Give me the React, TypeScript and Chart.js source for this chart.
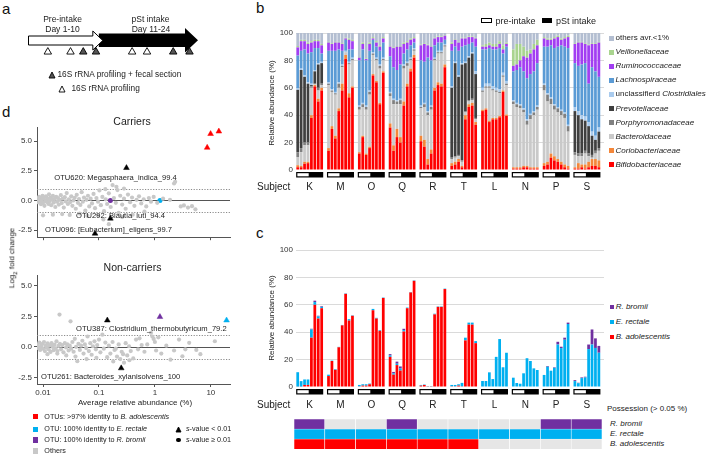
import React, { useEffect, useRef } from 'react';
import { Chart, registerables } from 'chart.js';
Chart.register(...registerables);

const FONT = "'Liberation Sans', Arial, Helvetica, sans-serif";
Chart.defaults.font.family = FONT;
Chart.defaults.color = '#333';

// ---------------- panel a ----------------
const preIntakeDays = [0, 10];
const intakeDays = [10, 24];
const sampleDays = [2.8, 6.0, 7.8, 9.6, 14.7, 16.8, 20.5, 22.8];
const sampleKinds = ['profiling', 'profiling', 'section', 'section', 'profiling', 'profiling', 'section', 'section'];

// ---------------- panel b ----------------
const subjects = ['K', 'M', 'O', 'Q', 'R', 'T', 'L', 'N', 'P', 'S'];
const bTicks = [0, 20, 40, 60, 80, 100];

const bifidobacteriaceae = [
  2, 2, 4.5, 5, 38, 61, 50, 58,
  14, 30, 23, 43, 58, 81, 53, 60,
  12, 24, 11, 16, 69, 64, 48, 71,
  31, 14, 24, 20, 47, 61, 72, 82,
  21, 17, 4, 12, 58, 62, 61, 75,
  3, 4, 6, 2, 37, 46, 47, 33,
  43, 44, 35, 37, 37, 38.5, 57, 39.5,
  1, 1, 1, 2, 2, 1, 1, 1,
  3, 4, 9, 7, 6, 4, 2, 1,
  1, 1, 2, 1, 2, 3, 3, 2,
];
const coriobacteriaceae = [
  1.5, 1, 1.5, 1, 2, 1, 2, 2,
  2, 2, 2, 2, 5, 3, 3, 1,
  1, 1, 1, 1, 1, 1, 1, 1,
  3, 4, 6, 4, 3, 2, 2, 2,
  4, 5, 4, 3, 2, 2, 2, 2,
  2, 2, 2, 1, 3, 2, 2, 2,
  1, 1, 1, 1, 1, 1, 1, 1,
  1, 1, 1, 1, 1, 1, 1, 1,
  2, 2, 3, 3, 2, 2, 2, 2,
  1, 4, 2, 3, 4, 5, 5, 5,
];
const bacteroidaceae = [
  6, 10, 12, 12, 20, 0.5, 6, 2,
  46, 25, 30, 15, 12, 2, 21, 19,
  31, 21, 32, 38, 14, 15, 25, 8,
  20, 30, 18, 24, 24, 13, 6, 3,
  20, 24, 32, 29, 20, 21, 22, 13,
  3, 3, 2, 3, 2, 2, 2, 2,
  13, 15, 24, 20, 19, 16.5, 10, 21.5,
  46, 44, 43, 39, 30, 35, 38, 42,
  53, 44, 36, 34, 34, 34, 34, 25,
  9, 5, 6, 8, 4, 1, 4, 7,
];
const porphyromonadaceae = [
  3.5, 3, 2, 2, 1, 0.5, 2, 1,
  1, 1, 1, 3, 1, 0, 1, 1,
  2, 2, 2, 2, 1, 1, 2, 1,
  2, 3, 2, 3, 2, 2, 1, 1,
  1, 2, 2, 2, 1, 1, 1, 1,
  1, 1, 1, 1, 1, 1, 1, 1,
  1, 1, 1, 1, 1, 1, 1, 1,
  2, 2, 2, 2, 3, 3, 2, 2,
  4, 5, 4, 3, 3, 3, 3, 4,
  2, 2, 2, 2, 2, 2, 2, 2,
];
const prevotellaceae = [
  45.5, 57, 48, 43, 1, 9, 17, 15,
  0, 0, 0, 0, 0, 0, 0, 0,
  0, 0, 0, 0, 0, 0, 0, 0,
  0, 0, 0, 0, 0, 0, 0, 0,
  0, 0, 0, 0, 0, 0, 0, 0,
  51, 68, 57, 70, 35, 31, 33, 32,
  0, 0, 0, 0, 0, 0, 0, 0,
  0, 0, 0, 0, 0, 0, 0, 0,
  0, 0, 0, 0, 0, 0, 0, 0,
  30, 28, 25, 22, 20, 14, 8, 12,
];
const unclClostridiales = [
  1, 1, 1, 1, 1, 1, 1, 1,
  1, 1, 1, 1, 1, 1, 1, 1,
  1, 1, 1, 1, 1, 1, 1, 1,
  1, 1, 1, 1, 1, 1, 1, 1,
  1, 1, 1, 1, 1, 1, 1, 1,
  1, 1, 1, 1, 1, 1, 1, 2,
  2, 2, 2, 2, 2, 2, 2, 2,
  1, 1, 1, 1, 1, 1, 1, 1,
  1, 1, 1, 1, 1, 1, 1, 1,
  3, 3, 3, 3, 3, 3, 3, 3,
];
const lachnospiraceae = [
  24, 13, 19, 21, 23, 16, 11, 6,
  23, 28, 30, 24, 10, 8, 9, 6,
  33, 39, 33, 29, 9, 8, 10, 11,
  26, 23, 22, 25, 8, 9, 9, 4,
  33, 30, 39, 33, 9, 6, 6, 3,
  26, 11, 18, 12, 12, 9, 7, 18,
  28, 25, 26, 27, 28, 30, 14, 25,
  21, 24, 27, 27, 30, 29, 29, 31,
  27, 34, 38, 41, 44, 47, 48, 56,
  32, 33, 37, 39, 28, 47, 47, 37,
];
const ruminococcaceae = [
  6, 7, 6, 7, 7, 5, 5, 6,
  6, 5, 6, 5, 5, 1, 7, 6,
  2, 4, 1, 5, 1, 3, 3, 3,
  7, 14, 17, 13, 7, 5, 4, 3,
  11, 13, 9, 10, 5, 4, 4, 3,
  5, 5, 6, 6, 5, 5, 4, 6,
  2, 2, 2, 2, 2, 3, 3, 2,
  4, 4, 5, 11, 15, 15, 16, 13,
  6, 5, 4, 7, 7, 4, 6, 8,
  14, 17, 16, 14, 28, 17, 20, 25,
];
const veillonellaceae = [
  1, 1, 1, 1, 1, 1, 1, 1,
  0.5, 0.5, 0.5, 0.5, 0.5, 0.5, 1, 1,
  0.5, 1, 0.5, 1, 1, 1, 1, 1,
  0.5, 0.5, 0.5, 0.5, 1, 1, 1, 1,
  0.5, 0.5, 0.5, 0.5, 0.5, 0.5, 0.5, 0.5,
  1, 0.5, 0.5, 0.5, 0.5, 0.5, 0.5, 0.5,
  1, 2, 2, 2, 2, 2, 3, 1,
  12, 15, 12, 7, 5, 3, 4, 4,
  1, 1, 1, 1, 1, 1, 1, 1,
  0.5, 0.5, 0.5, 0.5, 0.5, 0.5, 0.5, 0.5,
];
const othersBelow1 = [
  9.5, 5, 5, 7, 6, 5, 5, 8,
  6.5, 7.5, 6.5, 6.5, 7.5, 3.5, 4, 5,
  17.5, 7, 18.5, 7, 3, 6, 9, 3,
  9.5, 10.5, 9.5, 9.5, 7, 6, 4, 3,
  8.5, 7.5, 8.5, 9.5, 3.5, 2.5, 2.5, 1.5,
  7, 4.5, 6.5, 3.5, 3.5, 2.5, 2.5, 3.5,
  9, 8, 7, 8, 8, 6, 9, 7,
  12, 8, 8, 10, 13, 12, 8, 5,
  3, 4, 4, 3, 2, 4, 3, 2,
  7.5, 6.5, 6.5, 7.5, 8.5, 7.5, 7.5, 6.5,
];

// ---------------- panel c ----------------
const cBadolescentis = [
  0.3, 0.3, 1.5, 1.5, 36, 60, 50, 57.5,
  8, 19, 12.5, 29, 45, 68, 48.5, 52,
  0.5, 1, 1, 2, 56, 50, 41, 65,
  22, 9, 16, 12, 40.5, 57.5, 69, 77.5,
  1, 1.5, 0.2, 0.2, 53, 58.5, 58.5, 71.5,
  0.5, 0.5, 1, 0.5, 34, 45.5, 45.5, 32,
  0, 0, 0, 0, 0, 0, 0, 0,
  0, 0, 0, 0, 0, 0, 0, 0,
  0, 0, 0, 0, 0, 0, 0, 0,
  0, 0, 0, 0, 0, 0, 0, 0,
];
const cErectale = [
  10.5, 4, 4, 4, 6, 2, 1.5, 1,
  1, 0.3, 0.5, 0.3, 0.3, 0.3, 1, 0.3,
  1, 1, 1, 0.5, 1, 0.5, 0.5, 0.3,
  1, 1, 1, 1.5, 1, 0.5, 0.3, 0.3,
  0.5, 0.3, 0.2, 0.2, 0.5, 0.3, 0.3, 0.3,
  1, 1, 1, 2.5, 2, 1.5, 1.5, 1.5,
  4.4, 4.4, 10.7, 5.8, 22, 35, 14.4, 25,
  6.8, 2.9, 2.4, 10, 21, 19, 13.6, 12.4,
  8.8, 14.8, 11.9, 14, 31, 28.4, 34.5, 46,
  4.3, 2.8, 6.5, 7, 27.7, 31, 28.5, 25,
];
const cRbromii = [
  0, 0, 0, 0, 0.5, 1, 0.5, 0.5,
  0, 0, 0, 0, 0, 0, 0, 0,
  0, 0, 0, 0, 0, 0, 0, 0,
  1, 1, 1.5, 1.5, 1, 0, 0, 0,
  0, 0, 0, 0, 0, 0, 0, 0,
  0, 0, 0, 0, 0, 0, 0, 0,
  0, 0, 0, 0, 0, 0, 0, 0,
  0, 0, 0, 0, 0, 0, 0, 0,
  0, 0.5, 0, 0.4, 2, 1, 1.5, 1,
  0.7, 0.3, 0.5, 0.5, 3.3, 11, 7, 5,
];
const possessRbromii = [1, 0, 0, 1, 0, 0, 0, 0, 1, 1];
const possessErectale = [1, 1, 1, 1, 1, 1, 1, 1, 1, 1];
const possessBadolescentis = [1, 1, 1, 1, 1, 1, 0, 0, 0, 0];

// ---------------- panel d ----------------
const dXTicks = [0.01, 0.1, 1, 10];
const dYTicks = [-2.5, 0, 2.5, 5];
const foldLines = [0, 1, -1];

const carriersOthers = [
  [0.008, 0.12], [0.0082, -0.15], [0.0085, 0.3], [0.0088, -0.05], [0.009, 0.18], [0.0092, -0.32], [0.0095, 0.05], [0.0098, 0.4],
  [0.01, -0.2], [0.0103, 0.22], [0.0106, -0.45], [0.011, 0.02], [0.0113, 0.35], [0.0117, -0.12], [0.012, 0.15], [0.0125, -0.3],
  [0.0128, 0.52], [0.0132, -0.05], [0.0136, 0.25], [0.014, -0.4], [0.0145, 0.08], [0.015, 0.38], [0.0155, -0.18], [0.016, 0.12],
  [0.0166, -0.55], [0.0172, 0.3], [0.0178, -0.1], [0.0185, 0.2], [0.0192, -0.35], [0.02, 0.05], [0.0208, 0.45], [0.0216, -0.22],
  [0.0225, 0.15], [0.0235, -0.6], [0.0245, 0.28], [0.0255, -0.08], [0.0265, 0.62], [0.0278, -0.3], [0.029, 0.1], [0.0305, -0.15],
  [0.032, 0.35], [0.0335, -0.45], [0.035, 0.0], [0.0368, 0.22], [0.0385, -0.7], [0.04, 0.48], [0.042, -0.2], [0.044, 0.12],
  [0.0465, -0.38], [0.049, 0.7], [0.0515, -0.1], [0.054, 0.25], [0.057, -0.85], [0.06, 0.05], [0.0635, 0.4], [0.067, -0.5],
  [0.071, 0.15], [0.075, -0.25], [0.08, 0.55], [0.085, -0.65], [0.09, 0.2], [0.096, -0.1], [0.102, 0.85], [0.108, -0.4],
  [0.115, 0.3], [0.123, -0.9], [0.132, 0.1], [0.14, -0.3], [0.15, 0.6], [0.162, -0.55], [0.175, 1.3], [0.185, 0.2],
  [0.2, -0.2], [0.205, 1.15], [0.214, 0.88], [0.225, -1.05], [0.24, 0.4], [0.26, -0.35], [0.28, 0.15], [0.3, -0.7],
  [0.33, 0.5], [0.36, -0.15], [0.39, 0.25], [0.43, -0.45], [0.47, 0.05], [0.52, 0.35], [0.57, -0.25], [0.63, 0.1],
  [0.7, -0.5], [0.78, 0.2], [0.85, -0.1], [0.95, 0.3], [1.1, -0.2], [1.4, 0.15], [1.86, 0.05], [2.2, 1.43],
  [2.3, 1.57], [2.9, -0.5], [3.3, -0.42], [3.9, -0.6], [4.6, -0.48], [5.3, -0.75], [0.01, -1.25], [0.015, -1.2],
  [0.022, -1.15], [0.03, -1.22], [0.045, -1.1], [0.062, -1.3], [0.095, -1.25], [0.12, -1.6], [0.15, -2.0], [0.26, -1.4],
  [0.4, -1.2], [0.28, 1.0], [0.13, 0.95], [0.65, -0.95],
];
const carriersSignificant = [[0.31, 2.75], [0.16, -1.52], [0.085, -2.79]];
const carriersBadolescentis = [[8.6, 4.46], [9.9, 5.62], [13.9, 5.83]];
const carriersErectale = [[1.23, 0.0]];
const carriersRbromii = [[0.16, 0.0]];

const nonCarriersOthers = [
  [0.008, 0.15], [0.0083, -0.1], [0.0086, 0.35], [0.0089, -0.25], [0.0092, 0.05], [0.0096, 0.22], [0.01, -0.15], [0.0104, 0.4],
  [0.0108, -0.35], [0.0112, 0.1], [0.0116, -0.05], [0.0121, 0.28], [0.0126, -0.2], [0.0131, 0.12], [0.0136, -0.42], [0.0142, 0.3],
  [0.0148, 0.0], [0.0154, -0.28], [0.016, 0.18], [0.0167, -0.12], [0.0174, 0.45], [0.0181, -0.35], [0.0189, 0.08], [0.0197, 2.65],
  [0.02, 0.25], [0.021, -0.2], [0.022, 0.15], [0.0232, -0.45], [0.0245, 0.3], [0.0258, -0.05], [0.0272, 0.2], [0.0287, -0.3],
  [0.03, 0.1], [0.031, 2.1], [0.0318, -0.15], [0.0335, 0.4], [0.0352, -0.4], [0.037, 0.66], [0.039, 0.0], [0.041, -1.18],
  [0.043, 0.25], [0.0455, -0.25], [0.048, 0.1], [0.0505, 0.5], [0.053, -0.55], [0.056, 0.2], [0.059, -0.1], [0.0625, 0.85],
  [0.066, -0.35], [0.07, 0.3], [0.074, -0.65], [0.078, 0.05], [0.083, 0.45], [0.088, -0.2], [0.093, 0.15], [0.1, 0.6],
  [0.106, -0.45], [0.115, 1.0], [0.122, -0.15], [0.13, 0.35], [0.14, -0.85], [0.15, 0.1], [0.16, -0.55], [0.175, 0.4],
  [0.19, -0.25], [0.2, -0.15], [0.21, -0.8], [0.225, 0.2], [0.24, -1.0], [0.255, -0.4], [0.27, -0.6], [0.28, -1.3],
  [0.3, 0.3], [0.32, -0.7], [0.345, 0.05], [0.37, -0.35], [0.41, -0.95], [0.46, 0.6], [0.5, -0.2], [0.53, 0.7],
  [0.58, 0.15], [0.65, -0.4], [0.73, 0.2], [0.85, 1.15], [0.9, 0.85], [0.95, 0.65], [1.0, 0.4], [1.05, -0.3],
  [1.15, 0.78], [1.3, -0.55], [1.6, 0.1], [1.9, -1.05], [2.2, -0.3], [2.7, 0.6], [3.1, -0.77], [3.5, -0.2],
  [4.1, 0.33], [5.5, -0.25], [6.5, -0.6], [11.8, 0.46], [0.012, -0.6], [0.018, -0.55], [0.026, -0.7], [0.038, -0.8],
  [0.06, -1.0], [0.09, -0.9], [0.18, -1.2], [0.35, -1.1],
];
const nonCarriersSignificant = [[0.141, 2.18], [0.25, -1.75]];
const nonCarriersErectale = [[19.1, 2.18]];
const nonCarriersRbromii = [[1.23, 2.46]];

// ---------------- helpers ----------------
const SAMPLES = 8;
const SLOTS = SAMPLES + 1;
const PRE = sampleDays.filter((d) => d < preIntakeDays[1]).length;

const slotLabels: string[] = [];
subjects.forEach((s) => {
  for (let i = 0; i < SAMPLES; i++) slotLabels.push(s + (i + 1));
  slotLabels.push('');
});
function spaced(values: number[]) {
  const out: (number | null)[] = [];
  subjects.forEach((_, g) => {
    for (let i = 0; i < SAMPLES; i++) out.push(values[g * SAMPLES + i]);
    out.push(null);
  });
  return out;
}
const pts = (arr: number[][]) => arr.map(([x, y]) => ({ x, y }));

const families = [
  { name: 'Bifidobacteriaceae', data: bifidobacteriaceae, color: '#ff0000' },
  { name: 'Coriobacteriaceae', data: coriobacteriaceae, color: '#f4873a' },
  { name: 'Bacteroidaceae', data: bacteroidaceae, color: '#c9c9c9' },
  { name: 'Porphyromonadaceae', data: porphyromonadaceae, color: '#808080' },
  { name: 'Prevotellaceae', data: prevotellaceae, color: '#3f3f3f' },
  { name: 'unclassifierd Clostridiales', data: unclClostridiales, color: '#a9cbee' },
  { name: 'Lachnospiraceae', data: lachnospiraceae, color: '#5b9bd5' },
  { name: 'Ruminococcaceae', data: ruminococcaceae, color: '#a23ef2' },
  { name: 'Veillonellaceae', data: veillonellaceae, color: '#a9d48f' },
  { name: 'others avr.<1%', data: othersBelow1, color: '#b3bed1' },
];

const C_PURPLE = '#7030a0';
const C_BLUE = '#00b0f0';
const C_RED = '#ff0000';
const C_EMPTY = '#e6e6e6';

function groupAxisPlugin(labelOffset: number) {
  return {
    id: 'groupAxis',
    afterDraw(chart: any) {
      const xs = chart.scales.x;
      const a = chart.chartArea;
      const ctx = chart.ctx;
      const slot = xs.getPixelForValue(1) - xs.getPixelForValue(0);
      ctx.save();
      subjects.forEach((s, g) => {
        const first = g * SLOTS;
        const last = first + SAMPLES - 1;
        const x0 = xs.getPixelForValue(first) - slot * 0.45;
        const x1 = xs.getPixelForValue(last) + slot * 0.45;
        const y0 = a.bottom + 2;
        const h = 5.5;
        ctx.fillStyle = '#000';
        ctx.fillRect(x0, y0, x1 - x0, h);
        const xm = (xs.getPixelForValue(first + PRE - 1) + xs.getPixelForValue(first + PRE)) / 2 - 1;
        ctx.fillStyle = '#fff';
        ctx.fillRect(x0 + 1.2, y0 + 1.2, xm - x0 - 1.2, h - 2.4);
        ctx.fillStyle = '#222';
        ctx.font = `10px ${FONT}`;
        ctx.textAlign = 'center';
        ctx.textBaseline = 'middle';
        ctx.fillText(s, (x0 + x1) / 2, a.bottom + labelOffset);
      });
      ctx.restore();
    },
  };
}

const refLinePlugin = {
  id: 'refLines',
  beforeDatasetsDraw(chart: any) {
    const { ctx, chartArea: a } = chart;
    const ys = chart.scales.y;
    foldLines.forEach((v) => {
      ctx.save();
      ctx.strokeStyle = v === 0 ? '#555' : '#8a8a8a';
      ctx.lineWidth = 1;
      ctx.setLineDash(v === 0 ? [] : [1.2, 1.5]);
      const py = Math.round(ys.getPixelForValue(v)) + 0.5;
      ctx.beginPath();
      ctx.moveTo(a.left, py);
      ctx.lineTo(a.right, py);
      ctx.stroke();
      ctx.restore();
    });
  },
};

const arrowPlugin = {
  id: 'arrows',
  beforeDatasetsDraw(chart: any) {
    const xs = chart.scales.x;
    const ctx = chart.ctx;
    const p0 = xs.getPixelForValue(preIntakeDays[0]);
    const p1 = xs.getPixelForValue(preIntakeDays[1]);
    const i0 = xs.getPixelForValue(intakeDays[0]);
    const i1 = xs.getPixelForValue(intakeDays[1]);
    ctx.save();
    ctx.fillStyle = '#000';
    ctx.beginPath();
    ctx.moveTo(i0, 13.5);
    ctx.lineTo(i1 - 13, 13.5);
    ctx.lineTo(i1 - 13, 8);
    ctx.lineTo(i1, 20.25);
    ctx.lineTo(i1 - 13, 32.5);
    ctx.lineTo(i1 - 13, 27);
    ctx.lineTo(i0, 27);
    ctx.closePath();
    ctx.fill();
    ctx.fillStyle = '#fff';
    ctx.strokeStyle = '#000';
    ctx.lineWidth = 1;
    ctx.beginPath();
    ctx.moveTo(p0 + 0.5, 16);
    ctx.lineTo(p1 - 6, 16);
    ctx.lineTo(p1 - 6, 11);
    ctx.lineTo(p1 + 4, 20.5);
    ctx.lineTo(p1 - 6, 30);
    ctx.lineTo(p1 - 6, 25);
    ctx.lineTo(p0 + 0.5, 25);
    ctx.closePath();
    ctx.fill();
    ctx.stroke();
    ctx.restore();
  },
};

function ChartBox({ x, y, w, h, make }: any) {
  const ref = useRef<HTMLCanvasElement | null>(null);
  useEffect(() => {
    const chart = new Chart(ref.current as any, make());
    return () => chart.destroy();
  }, []);
  return (
    <canvas
      ref={ref}
      width={w}
      height={h}
      style={{ position: 'absolute', left: x, top: y, width: w, height: h }}
    />
  );
}

function Txt({ x, y, size = 8, align = 'left', children, italic = false, rotate = 0, color = '#222', weight = 400 }: any) {
  const tx = align === 'center' ? '-50%' : align === 'right' ? '-100%' : '0';
  return (
    <div
      style={{
        position: 'absolute',
        left: x,
        top: y,
        fontSize: size,
        fontFamily: FONT,
        fontStyle: italic ? 'italic' : 'normal',
        fontWeight: weight,
        color,
        whiteSpace: 'nowrap',
        lineHeight: 1.15,
        transform: `translate(${tx}, -50%)${rotate ? ` rotate(${rotate}deg)` : ''}`,
      }}
    >
      {children}
    </div>
  );
}

function Sq({ x, y, s, color }: any) {
  return (
    <div
      style={{
        position: 'absolute',
        left: x,
        top: y - s / 2,
        width: s,
        height: s,
        background: color,
      }}
    />
  );
}

function Tri({ x, y, fill, size = 7 }: any) {
  return (
    <svg
      width={size + 2}
      height={size + 2}
      style={{ position: 'absolute', left: x - size / 2 - 1, top: y - size / 2 - 1 }}
    >
      <polygon
        points={`${size / 2 + 1},1 ${size + 1},${size + 1} 1,${size + 1}`}
        fill={fill}
        stroke="#000"
        strokeWidth={0.9}
      />
    </svg>
  );
}

// ---------------- chart configs ----------------
function yAxisPct(width: number) {
  return {
    stacked: true,
    min: 0,
    max: 100,
    afterBuildTicks: (s: any) => {
      s.ticks = bTicks.map((v) => ({ value: v }));
    },
    afterFit: (s: any) => {
      s.width = width;
    },
    ticks: { font: { size: 8 }, color: '#333', padding: 3 },
    grid: {
      drawTicks: false,
      color: (c: any) => (c.tick && c.tick.value === 0 ? 'rgba(0,0,0,0)' : '#dadada'),
    },
    border: { display: false },
  };
}

const makeB = () => ({
  type: 'bar',
  data: {
    labels: slotLabels,
    datasets: families.map((f) => ({
      label: f.name,
      data: spaced(f.data),
      backgroundColor: f.color,
      borderWidth: 0,
      barPercentage: 0.8,
      categoryPercentage: 1,
    })),
  },
  options: {
    responsive: false,
    animation: false,
    layout: { padding: { top: 8, bottom: 30, right: 2, left: 0 } },
    plugins: { legend: { display: false }, tooltip: { enabled: false } },
    scales: { x: { stacked: true, display: false }, y: yAxisPct(46) },
  },
  plugins: [groupAxisPlugin(17)],
});

const makeC = () => ({
  type: 'bar',
  data: {
    labels: slotLabels,
    datasets: [
      { label: 'B. adolescentis', data: spaced(cBadolescentis), backgroundColor: C_RED },
      { label: 'E. rectale', data: spaced(cErectale), backgroundColor: C_BLUE },
      { label: 'R. bromii', data: spaced(cRbromii), backgroundColor: C_PURPLE },
    ].map((d) => ({ ...d, borderWidth: 0, barPercentage: 0.8, categoryPercentage: 1 })),
  },
  options: {
    responsive: false,
    animation: false,
    layout: { padding: { top: 8, bottom: 30, right: 2, left: 0 } },
    plugins: { legend: { display: false }, tooltip: { enabled: false } },
    scales: { x: { stacked: true, display: false }, y: yAxisPct(46) },
  },
  plugins: [groupAxisPlugin(18)],
});

const makeHeat = () => ({
  type: 'bar',
  data: {
    labels: subjects,
    datasets: [
      { label: 'B. adolescentis', flags: possessBadolescentis, on: C_RED },
      { label: 'E. rectale', flags: possessErectale, on: C_BLUE },
      { label: 'R. bromii', flags: possessRbromii, on: C_PURPLE },
    ].map((r) => ({
      label: r.label,
      data: r.flags.map(() => 1),
      backgroundColor: r.flags.map((f) => (f ? r.on : C_EMPTY)),
      borderColor: '#fff',
      borderWidth: 0.6,
      barPercentage: 1,
      categoryPercentage: 1,
    })),
  },
  options: {
    responsive: false,
    animation: false,
    layout: { padding: 0 },
    plugins: { legend: { display: false }, tooltip: { enabled: false } },
    scales: {
      x: { stacked: true, display: false },
      y: { stacked: true, display: false, min: 0, max: 3 },
    },
  },
});

function makeD(series: any[], yMin: number, yMax: number, showX: boolean, padTop: number) {
  return () => ({
    type: 'scatter',
    data: { datasets: series },
    options: {
      responsive: false,
      animation: false,
      layout: { padding: { top: padTop, right: 5, left: 0, bottom: 0 } },
      plugins: { legend: { display: false }, tooltip: { enabled: false } },
      scales: {
        x: {
          type: 'logarithmic',
          min: 0.0078,
          max: 22,
          afterBuildTicks: (s: any) => {
            s.ticks = dXTicks.map((v) => ({ value: v }));
          },
          afterFit: (s: any) => {
            s.height = showX ? 20 : 4;
          },
          ticks: {
            display: showX,
            font: { size: 8 },
            color: '#333',
            padding: 1,
            maxRotation: 0,
            callback: (v: any) => String(v),
          },
          grid: { drawOnChartArea: false, tickLength: 3, color: '#555' },
          border: { color: '#555' },
        },
        y: {
          min: yMin,
          max: yMax,
          afterBuildTicks: (s: any) => {
            s.ticks = dYTicks.map((v) => ({ value: v }));
          },
          afterFit: (s: any) => {
            s.width = 37;
          },
          ticks: { font: { size: 8 }, color: '#333', padding: 2, callback: (v: any) => Number(v).toFixed(1) },
          grid: { drawOnChartArea: false, tickLength: 3, color: '#555' },
          border: { color: '#555' },
        },
      },
    },
    plugins: [refLinePlugin],
  });
}

const circle = (data: number[][], color: string, r = 2.1) => ({
  data: pts(data),
  pointStyle: 'circle',
  pointRadius: r,
  backgroundColor: color,
  borderWidth: 0,
});
const tri = (data: number[][], color: string) => ({
  data: pts(data),
  pointStyle: 'triangle',
  pointRadius: 3.3,
  backgroundColor: color,
  borderColor: color,
  borderWidth: 0.5,
});

const makeDTop = makeD(
  [
    circle(carriersOthers, '#c8c8c8'),
    tri(carriersSignificant, '#000'),
    tri(carriersBadolescentis, C_RED),
    circle(carriersErectale, C_BLUE, 2.5),
    circle(carriersRbromii, C_PURPLE, 2.5),
  ],
  -3.1,
  6.2,
  false,
  17
);
const makeDBottom = makeD(
  [
    circle(nonCarriersOthers, '#c8c8c8'),
    tri(nonCarriersSignificant, '#000'),
    tri(nonCarriersErectale, C_BLUE),
    tri(nonCarriersRbromii, C_PURPLE),
  ],
  -3.05,
  5.9,
  true,
  13
);

const makeA = () => ({
  type: 'scatter',
  data: {
    datasets: [
      {
        data: sampleDays.map((d) => ({ x: d, y: 0 })),
        pointStyle: 'triangle',
        pointRadius: 4.3,
        backgroundColor: sampleKinds.map((k) => (k === 'section' ? '#555' : '#fff')),
        borderColor: '#000',
        borderWidth: 0.9,
      },
    ],
  },
  options: {
    responsive: false,
    animation: false,
    layout: { padding: { left: 10, right: 10, top: 24, bottom: 0 } },
    plugins: { legend: { display: false }, tooltip: { enabled: false } },
    scales: {
      x: { type: 'linear', min: preIntakeDays[0], max: intakeDays[1], display: false },
      y: { min: -1, max: 1, display: false },
    },
  },
  plugins: [arrowPlugin],
});

const legendStep = 14.04;

export default function App() {
  return (
    <div
      style={{
        position: 'absolute',
        left: 0,
        top: 0,
        width: 706,
        height: 454,
        background: '#fff',
        overflow: 'hidden',
        fontFamily: FONT,
      }}
    >
      {/* panel letters */}
      <Txt x={2} y={9} size={15} color="#111">a</Txt>
      <Txt x={256} y={8} size={15} color="#111">b</Txt>
      <Txt x={256} y={233} size={15} color="#111">c</Txt>
      <Txt x={2} y={112} size={15} color="#111">d</Txt>

      {/* panel a */}
      <ChartBox x={18} y={20} w={190} h={45} make={makeA} />
      <Txt x={62.5} y={20} size={8.5} align="center">Pre-intake</Txt>
      <Txt x={62.5} y={29.5} size={8.5} align="center">Day 1-10</Txt>
      <Txt x={150.5} y={20} size={8.5} align="center">pSt intake</Txt>
      <Txt x={151} y={29.5} size={8.5} align="center">Day 11-24</Txt>
      <Tri x={51.7} y={75} fill="#555" size={6} />
      <Txt x={57.5} y={75} size={8.3}>16S rRNA profiling + fecal section</Txt>
      <Tri x={62.3} y={89} fill="#fff" size={6} />
      <Txt x={71.5} y={89} size={8.3}>16S rRNA profiling</Txt>

      {/* panel b */}
      <ChartBox x={250} y={25} w={356} h={175} make={makeB} />
      <Txt x={272} y={103} size={8} align="center" rotate={-90}>Relative abundance (%)</Txt>
      <Txt x={257} y={187} size={10}>Subject</Txt>
      <div style={{ position: 'absolute', left: 481, top: 18.3, width: 11, height: 5.2, border: '1.2px solid #000', boxSizing: 'border-box', background: '#fff' }} />
      <Txt x={495.5} y={21} size={9}>pre-intake</Txt>
      <div style={{ position: 'absolute', left: 541.5, top: 18.3, width: 10.5, height: 5.2, background: '#000' }} />
      <Txt x={556} y={21} size={9}>pSt intake</Txt>
      {families
        .slice()
        .reverse()
        .map((f, i) => {
          const y = 38.3 + i * legendStep;
          let label: any = <i>{f.name}</i>;
          if (f.name.startsWith('others')) label = f.name;
          if (f.name.startsWith('unclassifierd')) label = (<span>unclassifierd <i>Clostridiales</i></span>);
          return (
            <React.Fragment key={f.name}>
              <Sq x={609.3} y={y} s={4.5} color={f.color} />
              <Txt x={615.5} y={y} size={8}>{label}</Txt>
            </React.Fragment>
          );
        })}

      {/* panel c */}
      <ChartBox x={250} y={242} w={356} h={175} make={makeC} />
      <Txt x={272} y={318} size={8} align="center" rotate={-90}>Relative abundance (%)</Txt>
      <Txt x={257} y={405} size={10}>Subject</Txt>
      <Sq x={610} y={307} s={4} color={C_PURPLE} />
      <Txt x={615.7} y={307} size={8} italic>R. bromii</Txt>
      <Sq x={610} y={322} s={4} color={C_BLUE} />
      <Txt x={615.7} y={322} size={8} italic>E. rectale</Txt>
      <Sq x={610} y={337} s={4} color={C_RED} />
      <Txt x={615.7} y={337} size={8} italic>B. adolescentis</Txt>
      <ChartBox x={294} y={419} w={308} h={30} make={makeHeat} />
      <Txt x={607} y={409} size={8}>Possession (&gt; 0.05 %)</Txt>
      <Txt x={610} y={424} size={8} italic>R. bromii</Txt>
      <Txt x={610} y={433.5} size={8} italic>E. rectale</Txt>
      <Txt x={610} y={443.5} size={8} italic>B. adolescentis</Txt>

      {/* panel d */}
      <Txt x={132} y={121} size={10.5} align="center">Carriers</Txt>
      <ChartBox x={0} y={110} w={235} h={134} make={makeDTop} />
      <Txt x={132.5} y={267} size={10.5} align="center">Non-carriers</Txt>
      <ChartBox x={0} y={262} w={235} h={142} make={makeDBottom} />
      <Txt x={12.5} y={258} size={8} align="center" rotate={-90}>
        Log<sub style={{ fontSize: 6 }}>2</sub> fold change
      </Txt>
      <Txt x={54.3} y={178} size={7.6}>OTU620: Megasphaera_indica_99.4</Txt>
      <Txt x={76} y={216} size={7.6}>OTU292: Blautia_luti_94.4</Txt>
      <Txt x={45} y={230.3} size={7.6}>OTU096: [Eubacterium]_eligens_99.7</Txt>
      <Txt x={76} y={329.3} size={7.6}>OTU387: Clostridium_thermobutyricum_79.2</Txt>
      <Txt x={41} y={377} size={7.6}>OTU261: Bacteroides_xylanisolvens_100</Txt>
      <Txt x={135} y={403} size={8} align="center">Average relative abundance (%)</Txt>

      <Sq x={32.5} y={416.7} s={5.5} color={C_RED} />
      <Txt x={44.3} y={416.7} size={7.2}>OTUs: &gt;97% identity to <i>B. adolescentis</i></Txt>
      <Sq x={32.5} y={429.3} s={5.5} color={C_BLUE} />
      <Txt x={44.3} y={429.3} size={7.2}>OTU: 100% identity to <i>E. rectale</i></Txt>
      <Sq x={32.5} y={440} s={5.5} color={C_PURPLE} />
      <Txt x={44.3} y={440} size={7.2}>OTU: 100% identity to <i>R. bromii</i></Txt>
      <Sq x={32.5} y={451} s={5.5} color="#c8c8c8" />
      <Txt x={44.3} y={451} size={7.2}>Others</Txt>
      <Tri x={178.3} y={429} fill="#000" size={5} />
      <Txt x={186} y={429.3} size={7.2}><i>s</i>-value &lt; 0.01</Txt>
      <div style={{ position: 'absolute', left: 176, top: 437.8, width: 4.6, height: 4.6, borderRadius: '50%', background: '#000' }} />
      <Txt x={186} y={440} size={7.2}><i>s</i>-value ≥ 0.01</Txt>
    </div>
  );
}
